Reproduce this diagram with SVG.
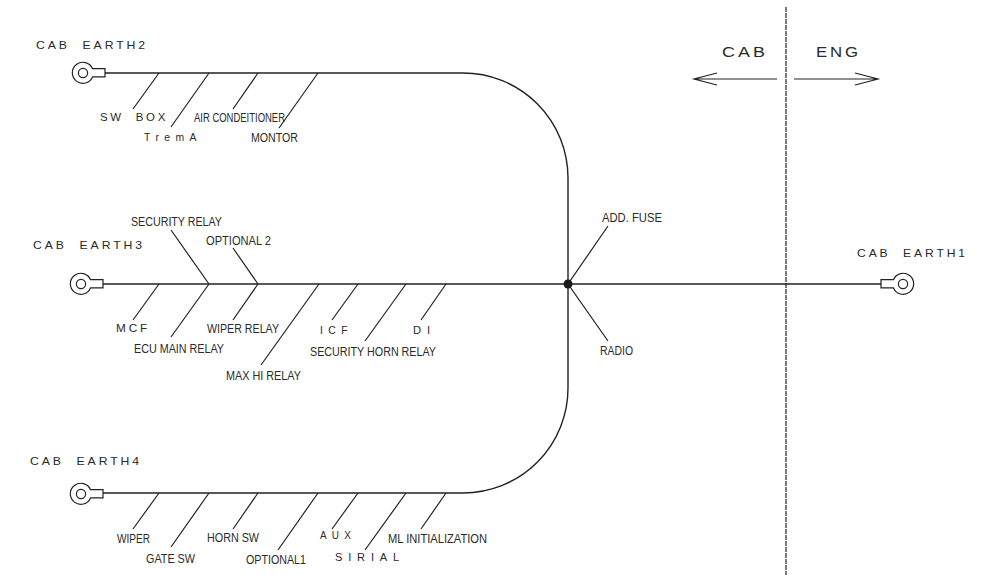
<svg xmlns="http://www.w3.org/2000/svg" xmlns:xlink="http://www.w3.org/1999/xlink" width="986" height="575" viewBox="0 0 986 575">
<style>
text{font-family:"Liberation Sans",Arial,sans-serif;font-size:10.5px;fill:#2a2a2a;white-space:pre}
.s{letter-spacing:2.5px}
.x{letter-spacing:5.5px}
.big{font-size:14.5px;letter-spacing:2.5px}
.c{font-size:12.5px}
.w{fill:none;stroke:#222;stroke-width:1.4}
.b{fill:none;stroke:#222;stroke-width:1.2}
.t{fill:none;stroke:#222;stroke-width:1.2}
</style>
<defs>
<g id="lug"><path class="t" d="M9.5-4.3H22V3.9H9.5A10.5 10.5 0 1 1 9.5-4.3Z"/><circle class="t" cx="0" cy="0" r="4.6"/></g>
</defs>
<rect width="986" height="575" fill="#fff"/>
<g id="connectors">
<path class="w" d="M105 73H463A105 105 0 0 1 568 178V388A105 105 0 0 1 463 493H103"/>
<path class="w" d="M103 284H881"/>
<path class="b" d="M159 73L133 109M209 73L171 127M258 73L233 109M318 73L279 128"/>
<path class="b" d="M159 284L133 320M209 284L171 337M258 284L233 320M319 284L261 365M358 284L332 320M406 284L365 341M446 284L421 320M171 230L209 284M233 248L258 284M608 226L568 284L608 341"/>
<path class="b" d="M159 493L133 529M209 493L171 547M258 493L233 529M318 493L278 550M358 493L332 529M406 493L365 550M446 493L421 529"/>
<circle cx="568" cy="284" r="4.5" fill="#1a1a1a"/>
<path class="b" d="M786 7V575" stroke-dasharray="5 1"/>
<path class="b" d="M777 79H694M717 73L694 79L717 85M794 79H878M855 73L878 79L855 85"/>
</g>
<g id="earth2"><use xlink:href="#lug" href="#lug" transform="translate(83 73)"/><text class="s" x="36" y="49" textLength="112" lengthAdjust="spacingAndGlyphs">CAB  EARTH2</text></g>
<g id="earth3"><use xlink:href="#lug" href="#lug" transform="translate(81 284)"/><text class="s" x="33" y="249" textLength="112" lengthAdjust="spacingAndGlyphs">CAB  EARTH3</text></g>
<g id="earth4"><use xlink:href="#lug" href="#lug" transform="translate(81 494)"/><text class="s" x="30" y="465" textLength="112" lengthAdjust="spacingAndGlyphs">CAB  EARTH4</text></g>
<g id="earth1"><use xlink:href="#lug" href="#lug" transform="translate(903 284) scale(-1 1)"/><text class="s" x="857" y="257" textLength="111" lengthAdjust="spacingAndGlyphs">CAB  EARTH1</text></g>
<g id="labels-top">
<text class="s" x="100" y="121" textLength="68" lengthAdjust="spacingAndGlyphs">SW  BOX</text>
<text class="x" x="144" y="141" textLength="58" lengthAdjust="spacingAndGlyphs">TremA</text>
<text class="c" x="194" y="121.5" textLength="91" lengthAdjust="spacingAndGlyphs">AIR CONDEITIONER</text>
<text class="c" x="251" y="141.5" textLength="47" lengthAdjust="spacingAndGlyphs">MONTOR</text>
</g>
<g id="labels-mid">
<text class="c" x="131" y="225.5" textLength="91" lengthAdjust="spacingAndGlyphs">SECURITY RELAY</text>
<text class="c" x="206" y="244.5" textLength="65" lengthAdjust="spacingAndGlyphs">OPTIONAL 2</text>
<text class="s" x="116" y="332" textLength="34" lengthAdjust="spacingAndGlyphs">MCF</text>
<text class="c" x="134" y="352.5" textLength="90" lengthAdjust="spacingAndGlyphs">ECU MAIN RELAY</text>
<text class="c" x="207" y="332.5" textLength="72" lengthAdjust="spacingAndGlyphs">WIPER RELAY</text>
<text class="c" x="226" y="379.5" textLength="75" lengthAdjust="spacingAndGlyphs">MAX HI RELAY</text>
<text class="x" x="320" y="334" textLength="33" lengthAdjust="spacingAndGlyphs">ICF</text>
<text class="c" x="310" y="355.5" textLength="126" lengthAdjust="spacingAndGlyphs">SECURITY HORN RELAY</text>
<text class="x" x="413" y="334" textLength="23" lengthAdjust="spacingAndGlyphs">DI</text>
<text class="c" x="602" y="221.5" textLength="60" lengthAdjust="spacingAndGlyphs">ADD. FUSE</text>
<text class="c" x="600" y="354.5" textLength="33" lengthAdjust="spacingAndGlyphs">RADIO</text>
</g>
<g id="labels-bottom">
<text class="c" x="117" y="542.5" textLength="33" lengthAdjust="spacingAndGlyphs">WIPER</text>
<text class="c" x="146" y="562.5" textLength="49" lengthAdjust="spacingAndGlyphs">GATE SW</text>
<text class="c" x="207" y="541.5" textLength="52" lengthAdjust="spacingAndGlyphs">HORN SW</text>
<text class="c" x="246" y="563.5" textLength="60" lengthAdjust="spacingAndGlyphs">OPTIONAL1</text>
<text class="x" x="320" y="539" textLength="36" lengthAdjust="spacingAndGlyphs">AUX</text>
<text class="x" x="335" y="561" textLength="70" lengthAdjust="spacingAndGlyphs">SIRIAL</text>
<text class="c" x="388" y="542.5" textLength="99" lengthAdjust="spacingAndGlyphs">ML INITIALIZATION</text>
</g>
<g id="side-labels">
<text class="big" x="722" y="57" textLength="46" lengthAdjust="spacingAndGlyphs">CAB</text>
<text class="big" x="816" y="57" textLength="45" lengthAdjust="spacingAndGlyphs">ENG</text>
</g>
</svg>
